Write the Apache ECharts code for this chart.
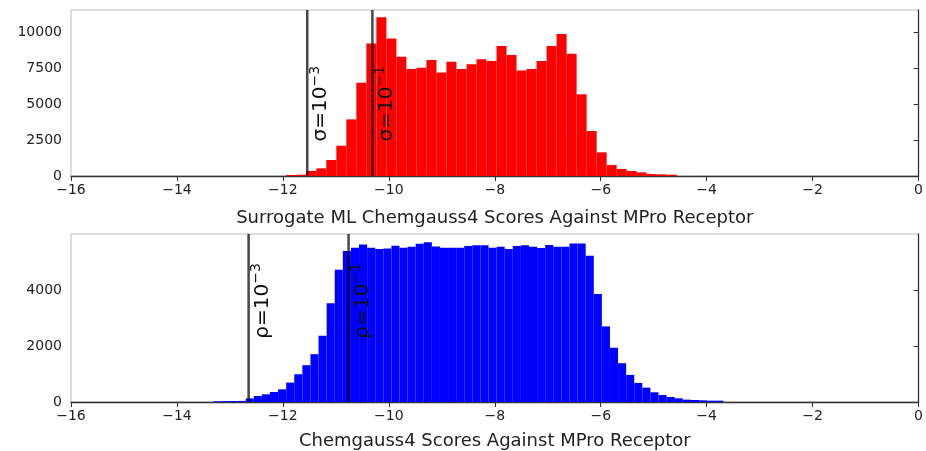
<!DOCTYPE html>
<html>
<head>
<meta charset="utf-8">
<script src="https://cdn.jsdelivr.net/npm/echarts@6/dist/echarts.min.js"></script>
<style>
html, body { margin: 0; padding: 0; background: #fff; }
#main { width: 926px; height: 451px; }
</style>
</head>
<body>
<div id="main"></div>
<script>
// top: surrogate ML scores, 39 equal bins
var topStart = -11.936, topWidth = 0.189;
var topCounts = [70, 90, 350, 530, 1110, 2100, 3930, 6480, 9200, 11010,
    9550, 8280, 7420, 7520, 8050, 7190, 7930, 7420, 7750, 8100,
    7980, 9020, 8400, 7330, 7420, 7980, 9020, 9850, 8490, 5670,
    3120, 1640, 760, 490, 350, 250, 140, 115, 90];
// bottom: chemgauss4 docking scores, 63 equal bins
var botStart = -13.313, botWidth = 0.1528;
var botCounts = [25, 30, 35, 40, 130, 216, 276, 360, 456, 697,
    997, 1321, 1717, 2378, 3543, 4744, 5417, 5537, 5657, 5540,
    5490, 5510, 5610, 5540, 5575, 5680, 5730, 5585, 5540, 5540,
    5540, 5600, 5630, 5630, 5540, 5575, 5490, 5600, 5630, 5575,
    5530, 5633, 5573, 5573, 5693, 5693, 5248, 3879, 2714, 1946,
    1393, 973, 685, 516, 348, 252, 180, 132, 84, 72,
    60, 48, 48];
// percentile cut-offs
var topCuts = [-11.54, -10.31];
var botCuts = [-12.647, -10.76];
var cutExps = ['−3', '−1'];
var topLabelY = 2400, botLabelY = 2270;
var topYTicks = [0, 2500, 5000, 7500, 10000];
var botYTicks = [0, 2000, 4000];
var titles = ['Surrogate ML Chemgauss4 Scores Against MPro Receptor', 'Chemgauss4 Scores Against MPro Receptor'];

function bins(start, w, counts) {
    return counts.map(function(c, i) {
        return [start + i * w, start + (i + 1) * w, c];
    });
}

function histItem(params, api) {
    var p0 = api.coord([api.value(0), api.value(2)]);
    var p1 = api.coord([api.value(1), 0]);
    return {
        type: 'rect',
        shape: { x: p0[0], y: p0[1], width: p1[0] - p0[0], height: p1[1] - p0[1] },
        style: { fill: api.visual('color') }
    };
}

function cutItem(sym) {
    return function(params, api) {
        var cs = params.coordSys;
        var x = api.coord([api.value(0), 0])[0];
        var ly = api.coord([api.value(0), api.value(1)])[1];
        return {
            type: 'group',
            children: [{
                type: 'line',
                shape: { x1: x, y1: cs.y, x2: x, y2: cs.y + cs.height },
                style: { stroke: 'rgba(0,0,0,0.72)', lineWidth: 2.5 }
            }, {
                type: 'text',
                x: x + 1,
                y: ly,
                rotation: Math.PI / 2,
                style: {
                    text: '{b|' + sym + '=10}{s|' + cutExps[params.dataIndex] + '}',
                    align: 'left',
                    verticalAlign: 'top',
                    rich: {
                        b: { fontSize: 20, fontFamily: 'DejaVu Sans', fill: '#111', lineHeight: 23, verticalAlign: 'bottom' },
                        s: { fontSize: 14, fontFamily: 'DejaVu Sans', fill: '#111', lineHeight: 23, verticalAlign: 'top' }
                    }
                }
            }]
        };
    };
}

var myChart = echarts.init(document.getElementById('main'));
var axisCol = '#333';
function plain(v) { return String(v); }
var option = {
    animation: false,
    grid: [
        { left: 71, right: 7, top: 10, height: 166, show: true, borderColor: '#bdbdbd', borderWidth: 1 },
        { left: 71, right: 7, top: 234, height: 168, show: true, borderColor: '#bdbdbd', borderWidth: 1 }
    ],
    xAxis: [0, 1].map(function(i) {
        return {
            gridIndex: i,
            type: 'value',
            min: -16,
            max: 0,
            interval: 2,
            axisLine: { onZero: false, lineStyle: { color: axisCol, width: 1.3 } },
            axisTick: { length: 5, lineStyle: { color: axisCol } },
            axisLabel: {
                fontSize: 14, color: '#222', fontFamily: 'DejaVu Sans', margin: 7,
                formatter: function(v) { return String(v).replace('-', '\u2212'); }
            },
            splitLine: { show: false },
            name: titles[i],
            nameLocation: 'middle',
            nameGap: i == 0 ? 33 : 30,
            nameTextStyle: { fontSize: 18, color: '#222', fontFamily: 'DejaVu Sans' }
        };
    }),
    yAxis: [
        {
            gridIndex: 0, type: 'value', min: 0, max: 11520,
            axisLine: { show: true, lineStyle: { color: axisCol, width: 1.3 } },
            axisTick: { show: true, length: 5, lineStyle: { color: axisCol }, customValues: topYTicks },
            axisLabel: { fontSize: 14, color: '#222', fontFamily: 'DejaVu Sans', margin: 9, customValues: topYTicks, formatter: plain },
            splitLine: { show: false }
        },
        {
            gridIndex: 1, type: 'value', min: 0, max: 6030,
            axisLine: { show: true, lineStyle: { color: axisCol, width: 1.3 } },
            axisTick: { show: true, length: 5, lineStyle: { color: axisCol }, customValues: botYTicks },
            axisLabel: { fontSize: 14, color: '#222', fontFamily: 'DejaVu Sans', margin: 9, customValues: botYTicks, formatter: plain },
            splitLine: { show: false }
        }
    ],
    series: [{
        type: 'custom',
        xAxisIndex: 0, yAxisIndex: 0,
        itemStyle: { color: '#ff0000' },
        renderItem: histItem,
        encode: { x: [0, 1], y: 2 },
        data: bins(topStart, topWidth, topCounts)
    }, {
        type: 'custom',
        xAxisIndex: 1, yAxisIndex: 1,
        itemStyle: { color: '#0000ff' },
        renderItem: histItem,
        encode: { x: [0, 1], y: 2 },
        data: bins(botStart, botWidth, botCounts)
    }, {
        type: 'custom',
        xAxisIndex: 0, yAxisIndex: 0,
        renderItem: cutItem('σ'),
        encode: { x: 0, y: 1 },
        z: 5,
        data: topCuts.map(function(c) { return [c, topLabelY]; })
    }, {
        type: 'custom',
        xAxisIndex: 1, yAxisIndex: 1,
        renderItem: cutItem('ρ'),
        encode: { x: 0, y: 1 },
        z: 5,
        data: botCuts.map(function(c) { return [c, botLabelY]; })
    }]
};
myChart.setOption(option);
</script>
</body>
</html>
